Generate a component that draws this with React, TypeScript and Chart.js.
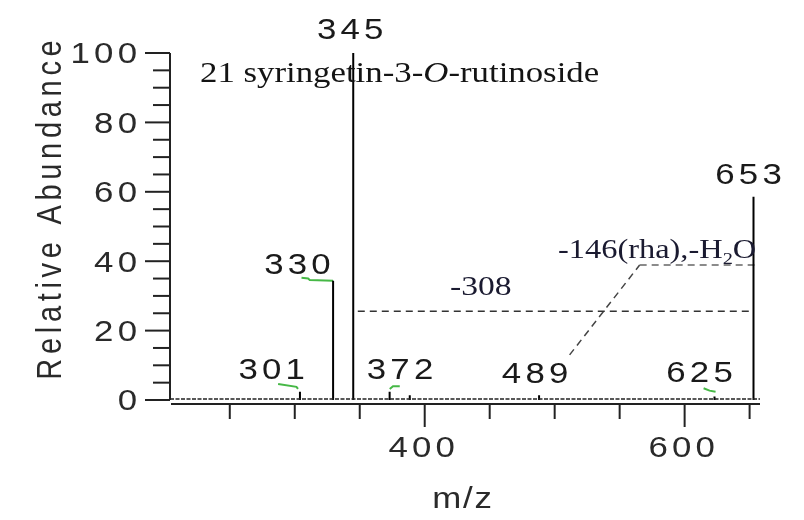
import { useEffect, useRef } from 'react';
import { Chart, registerables } from 'chart.js';

Chart.register(...registerables);

// ---- data ----
const mzRange = [204, 658];
const abundanceRange = [-1.15, 100];
const abundanceMajorTicks = [0, 20, 40, 60, 80, 100];
const abundanceMinorTicks = [5, 10, 15, 25, 30, 35, 45, 50, 55, 65, 70, 75, 85, 90, 95];
const mzMajorTicks = [400, 600];
const mzMinorTicks = [250, 300, 350, 450, 500, 550, 650];

const peakMz = [304, 329.5, 345, 373, 388.5, 488, 623, 653];
const peakAbundance = [2.4, 34.4, 100, 2.4, 1.4, 1.4, 1.0, 58.6];
const peakLabels = ['301', '330', '345', '372', '', '489', '625', '653'];

const leader301 = [[287.2, 4.6], [301.3, 3.8], [302.5, 3.2]];
const leader330 = [[305.2, 35.2], [310.3, 35.0], [311.5, 34.6], [329.5, 34.4]];
const leader372 = [[373.1, 3.2], [375.6, 4.0], [380.8, 4.0]];
const leader625 = [[614.6, 3.4], [619.2, 2.7], [623.8, 2.4]];

const loss308Line = [[348.5, 25.6], [650, 25.6]];
const lossRhaLine = [[565.4, 38.9], [653.8, 38.9]];
const lossRhaLink = [[511.5, 13.0], [565.4, 38.9]];
const baselineNoise = [[204, 0.3], [658, 0.3]];

const titleParts = ['21 syringetin-3-', 'O', '-rutinoside'];
const yTitle = 'Relative Abundance';
const xTitle = 'm/z';
const loss308Text = '-308';
const lossRhaParts = ['-146(rha),-H', '2', 'O'];

// ---- helpers (layout/style) ----
const LABEL_OFFSETS = [
  [-28.3, -23], [-35.6, -16.6], [-3, -24], [10.4, -23], [0, 0], [-4, -23], [-15, -24.5], [-5, -23],
];
const SANS = "'Liberation Sans', Arial, sans-serif";
const SERIF = "'Liberation Serif', 'Times New Roman', serif";

function stretchedText(
  ctx: CanvasRenderingContext2D, text: string, x: number, y: number,
  font: string, spacing: number, sx: number, align: 'left' | 'center' | 'right', color: string,
) {
  ctx.save();
  ctx.font = font;
  (ctx as any).letterSpacing = '0px';
  const raw = ctx.measureText(text).width + spacing * Math.max(0, text.length - 1);
  const w = raw * sx;
  const left = align === 'center' ? x - w / 2 : align === 'right' ? x - w : x;
  (ctx as any).letterSpacing = spacing + 'px';
  ctx.fillStyle = color;
  ctx.textAlign = 'left';
  ctx.textBaseline = 'alphabetic';
  ctx.translate(left, y);
  ctx.scale(sx, 1);
  ctx.fillText(text, 0, 0);
  ctx.restore();
  return w;
}

const pts = (arr: number[][]) => arr.map(([x, y]) => ({ x, y }));

const spectrumPlugin = {
  id: 'spectrumDecor',
  afterDatasetsDraw(chart: any) {
    const ctx: CanvasRenderingContext2D = chart.ctx;
    const xs = chart.scales.x;
    const ys = chart.scales.y;
    const area = chart.chartArea;
    const axisX = area.left;
    const y0 = ys.getPixelForValue(0);
    const y100 = ys.getPixelForValue(100);
    ctx.save();
    ctx.strokeStyle = '#222';
    ctx.lineWidth = 2;
    // y axis
    ctx.beginPath();
    ctx.moveTo(axisX, y100);
    ctx.lineTo(axisX, y0);
    ctx.stroke();
    abundanceMajorTicks.forEach((v) => {
      const p = ys.getPixelForValue(v);
      ctx.beginPath();
      ctx.moveTo(axisX - 25, p);
      ctx.lineTo(axisX, p);
      ctx.stroke();
    });
    abundanceMinorTicks.forEach((v) => {
      const p = ys.getPixelForValue(v);
      ctx.beginPath();
      ctx.moveTo(axisX - 17, p);
      ctx.lineTo(axisX, p);
      ctx.stroke();
    });
    // x axis
    const axisY = area.bottom;
    ctx.beginPath();
    ctx.moveTo(area.left + 1, axisY);
    ctx.lineTo(area.right, axisY);
    ctx.stroke();
    mzMinorTicks.forEach((v) => {
      const p = xs.getPixelForValue(v);
      ctx.beginPath();
      ctx.moveTo(p, axisY);
      ctx.lineTo(p, axisY + 15);
      ctx.stroke();
    });
    mzMajorTicks.forEach((v) => {
      const p = xs.getPixelForValue(v);
      ctx.beginPath();
      ctx.moveTo(p, axisY);
      ctx.lineTo(p, axisY + 23);
      ctx.stroke();
    });
    ctx.restore();

    const tickFont = `29px ${SANS}`;
    abundanceMajorTicks.forEach((v) => {
      const p = ys.getPixelForValue(v);
      stretchedText(ctx, String(v), axisX - 33, p + 10.4, tickFont, 3.5, 1.2, 'right', '#2a2a2a');
    });
    mzMajorTicks.forEach((v) => {
      const p = xs.getPixelForValue(v);
      stretchedText(ctx, String(v), p - 3, axisY + 53, tickFont, 3.5, 1.2, 'center', '#2a2a2a');
    });

    // axis titles
    stretchedText(ctx, xTitle, (area.left + area.right) / 2 - 3, 508, tickFont, 1.5, 1.2, 'center', '#2a2a2a');
    ctx.save();
    ctx.translate(61, 210);
    ctx.rotate(-Math.PI / 2);
    ctx.scale(1, 1.2);
    ctx.font = tickFont;
    (ctx as any).letterSpacing = '0px';
    const tw = ctx.measureText(yTitle).width + 4.7 * (yTitle.length - 1);
    (ctx as any).letterSpacing = '4.7px';
    ctx.fillStyle = '#2a2a2a';
    ctx.textAlign = 'left';
    ctx.textBaseline = 'alphabetic';
    ctx.fillText(yTitle, -tw / 2, 0);
    ctx.restore();

    // peak labels
    peakLabels.forEach((lab, i) => {
      if (!lab) return;
      const px = xs.getPixelForValue(peakMz[i]);
      const py = ys.getPixelForValue(peakAbundance[i]);
      const [dx, dy] = LABEL_OFFSETS[i];
      stretchedText(ctx, lab, px + dx, py + dy + 10.4, tickFont, 3.5, 1.2, 'center', '#1a1a1a');
    });

    // compound title
    let tx = 200;
    const tFont = `29px ${SERIF}`;
    const tItal = `italic 29px ${SERIF}`;
    titleParts.forEach((part, i) => {
      tx += stretchedText(ctx, part, tx, 82, i === 1 ? tItal : tFont, 0, 1.2, 'left', '#141414');
    });

    // neutral loss annotations
    stretchedText(ctx, loss308Text, 450, 295, `28px ${SERIF}`, 0, 1.2, 'left', '#1a1a30');
    let lx = 558;
    lx += stretchedText(ctx, lossRhaParts[0], lx, 258, `27px ${SERIF}`, 0, 1.2, 'left', '#1a1a30');
    lx += stretchedText(ctx, lossRhaParts[1], lx, 264, `17px ${SERIF}`, 0, 1.2, 'left', '#1a1a30');
    stretchedText(ctx, lossRhaParts[2], lx, 258, `27px ${SERIF}`, 0, 1.2, 'left', '#1a1a30');
  },
};

export default function App() {
  const ref = useRef<HTMLCanvasElement | null>(null);
  useEffect(() => {
    document.body.style.margin = '0';
    const canvas = ref.current;
    if (!canvas) return;
    const peakPoints: any[] = [];
    peakMz.forEach((m, i) => {
      peakPoints.push({ x: m, y: 0 }, { x: m, y: peakAbundance[i] }, { x: m, y: null });
    });
    const green = '#46b846';
    const dashed = (data: number[][], color: string) => ({
      data: pts(data), borderColor: color, borderWidth: 1.5, borderDash: [7, 5],
      showLine: true, pointRadius: 0, clip: false as any,
    });
    const chart = new Chart(canvas, {
      type: 'scatter',
      data: {
        datasets: [
          {
            data: pts(baselineNoise), borderColor: '#222', borderWidth: 1.5, borderDash: [4, 1.5],
            showLine: true, pointRadius: 0,
          } as any,
          {
            data: peakPoints, borderColor: '#000', borderWidth: 2, showLine: true, pointRadius: 0,
            spanGaps: false, clip: false,
          } as any,
          ...[leader301, leader330, leader372, leader625].map((l) => ({
            data: pts(l), borderColor: green, borderWidth: 2, showLine: true, pointRadius: 0,
          })),
          dashed(loss308Line, '#333'),
          dashed(lossRhaLine, '#666'),
          dashed(lossRhaLink, '#444'),
        ],
      },
      options: {
        animation: false,
        responsive: false,
        devicePixelRatio: 1,
        layout: { padding: { left: 170, right: 44, top: 53, bottom: 116 } },
        scales: {
          x: { type: 'linear', min: mzRange[0], max: mzRange[1], display: false },
          y: { type: 'linear', min: abundanceRange[0], max: abundanceRange[1], display: false },
        },
        plugins: { legend: { display: false }, tooltip: { enabled: false } },
        elements: { line: { tension: 0 } },
      },
      plugins: [spectrumPlugin],
    });
    return () => chart.destroy();
  }, []);
  return (
    <div style={{ position: 'fixed', left: 0, top: 0, width: 804, height: 520, background: '#fff' }}>
      <canvas ref={ref} width={804} height={520} style={{ display: 'block' }} />
    </div>
  );
}
